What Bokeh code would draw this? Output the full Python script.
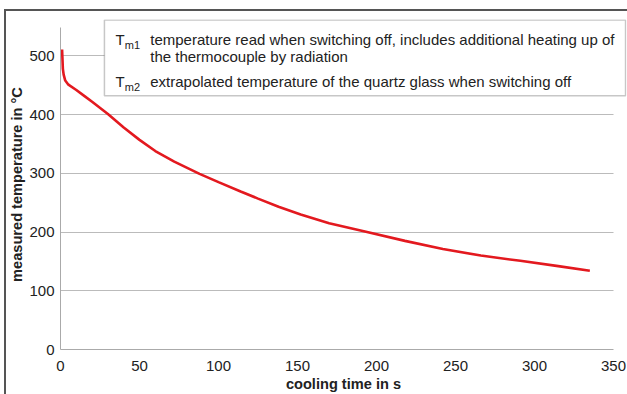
from bokeh.plotting import figure
from bokeh.models import Range1d, BoxAnnotation, Label, FixedTicker
from bokeh.embed import file_html
from bokeh.resources import INLINE

# data
time_s = [1, 1.5, 2, 3, 5, 10, 15, 20, 30, 40, 50, 60, 72, 88, 100, 114, 125,
          138, 152, 170, 194, 218, 242, 266, 291, 315, 335]
temp_c = [511, 478, 468, 458, 451, 442, 432, 422, 401, 378, 357, 338, 320, 299,
          285, 269, 257, 243, 230, 215, 200, 185, 171, 160, 151, 142, 134]

x_ticks = [0, 50, 100, 150, 200, 250, 300, 350]
y_ticks = [0, 100, 200, 300, 400, 500]

x_label = "cooling time in s"
y_label = "measured temperature in °C"

legend_symbols = ["T", "T"]
legend_subs = ["m1", "m2"]
legend_lines = [
    "temperature read when switching off, includes additional heating up of",
    "the thermocouple by radiation",
    "extrapolated temperature of the quartz glass when switching off",
]

FONT = "Liberation Sans"
TXT = "#222222"

p = figure(width=627, height=394, output_backend="svg", toolbar_location=None,
           x_range=Range1d(0, 358.2), y_range=Range1d(0, 562),
           min_border_left=60, min_border_right=1, min_border_top=19,
           min_border_bottom=41)
p.outline_line_color = None
p.background_fill_color = "white"
p.border_fill_color = None

p.line(time_s, temp_c, line_color="#e3191f", line_width=2.6)

for ax in (p.xaxis, p.yaxis):
    ax.axis_line_color = "#aaaaaa"
    ax.axis_line_width = 1
    ax.major_tick_line_color = None
    ax.minor_tick_line_color = None
    ax.major_label_text_font = FONT
    ax.major_label_text_font_size = "15px"
    ax.major_label_text_color = TXT
    ax.axis_label_text_font = FONT
    ax.axis_label_text_font_size = "14.6px"
    ax.axis_label_text_font_style = "bold"
    ax.axis_label_text_color = TXT

p.xaxis.ticker = FixedTicker(ticks=x_ticks)
p.yaxis.ticker = FixedTicker(ticks=y_ticks)
p.xaxis.bounds = (x_ticks[0], x_ticks[-1])
p.yaxis.bounds = (0, 549)
p.xaxis.axis_label = x_label
p.yaxis.axis_label = y_label
p.xaxis.major_label_standoff = 5
p.xaxis.axis_label_standoff = 2
p.yaxis.major_label_standoff = 0
p.yaxis.axis_label_standoff = 1

p.xgrid.grid_line_color = None
p.ygrid.grid_line_color = "#bbbbbb"
p.ygrid.grid_line_width = 1
p.ygrid.ticker = FixedTicker(ticks=y_ticks[1:])
p.ygrid.cross_bounds = (x_ticks[0], x_ticks[-1])

# legend box
box = BoxAnnotation(left=27.8, right=357.6, bottom=432.2, top=561.2,
                    fill_color="white", fill_alpha=1.0,
                    line_color="#444444", line_width=1.5, level="annotation")
p.add_layout(box)

def add_text(x, y, txt, size="15px"):
    p.add_layout(Label(x=x, y=y, text=txt, text_font=FONT, text_font_size=size,
                       text_color=TXT, text_baseline="alphabetic",
                       text_align="left"))

add_text(34.8, 527.6, legend_symbols[0])
add_text(40.7, 518, legend_subs[0], "11px")
add_text(56.8, 527.6, legend_lines[0])
add_text(56.8, 498.3, legend_lines[1])
add_text(34.8, 455.8, legend_symbols[1])
add_text(40.7, 446.5, legend_subs[1], "11px")
add_text(56.8, 455.8, legend_lines[2])

# outer frame lines (left and top) drawn behind the transparent border area
p.styles = {
    "background": ("linear-gradient(#555555, #555555) 4px 9px / 2px 100% no-repeat, "
                   "linear-gradient(#555555, #555555) 4px 9px / 100% 2px no-repeat, white"),
}

open("out.html", "w").write(file_html(p, INLINE))
